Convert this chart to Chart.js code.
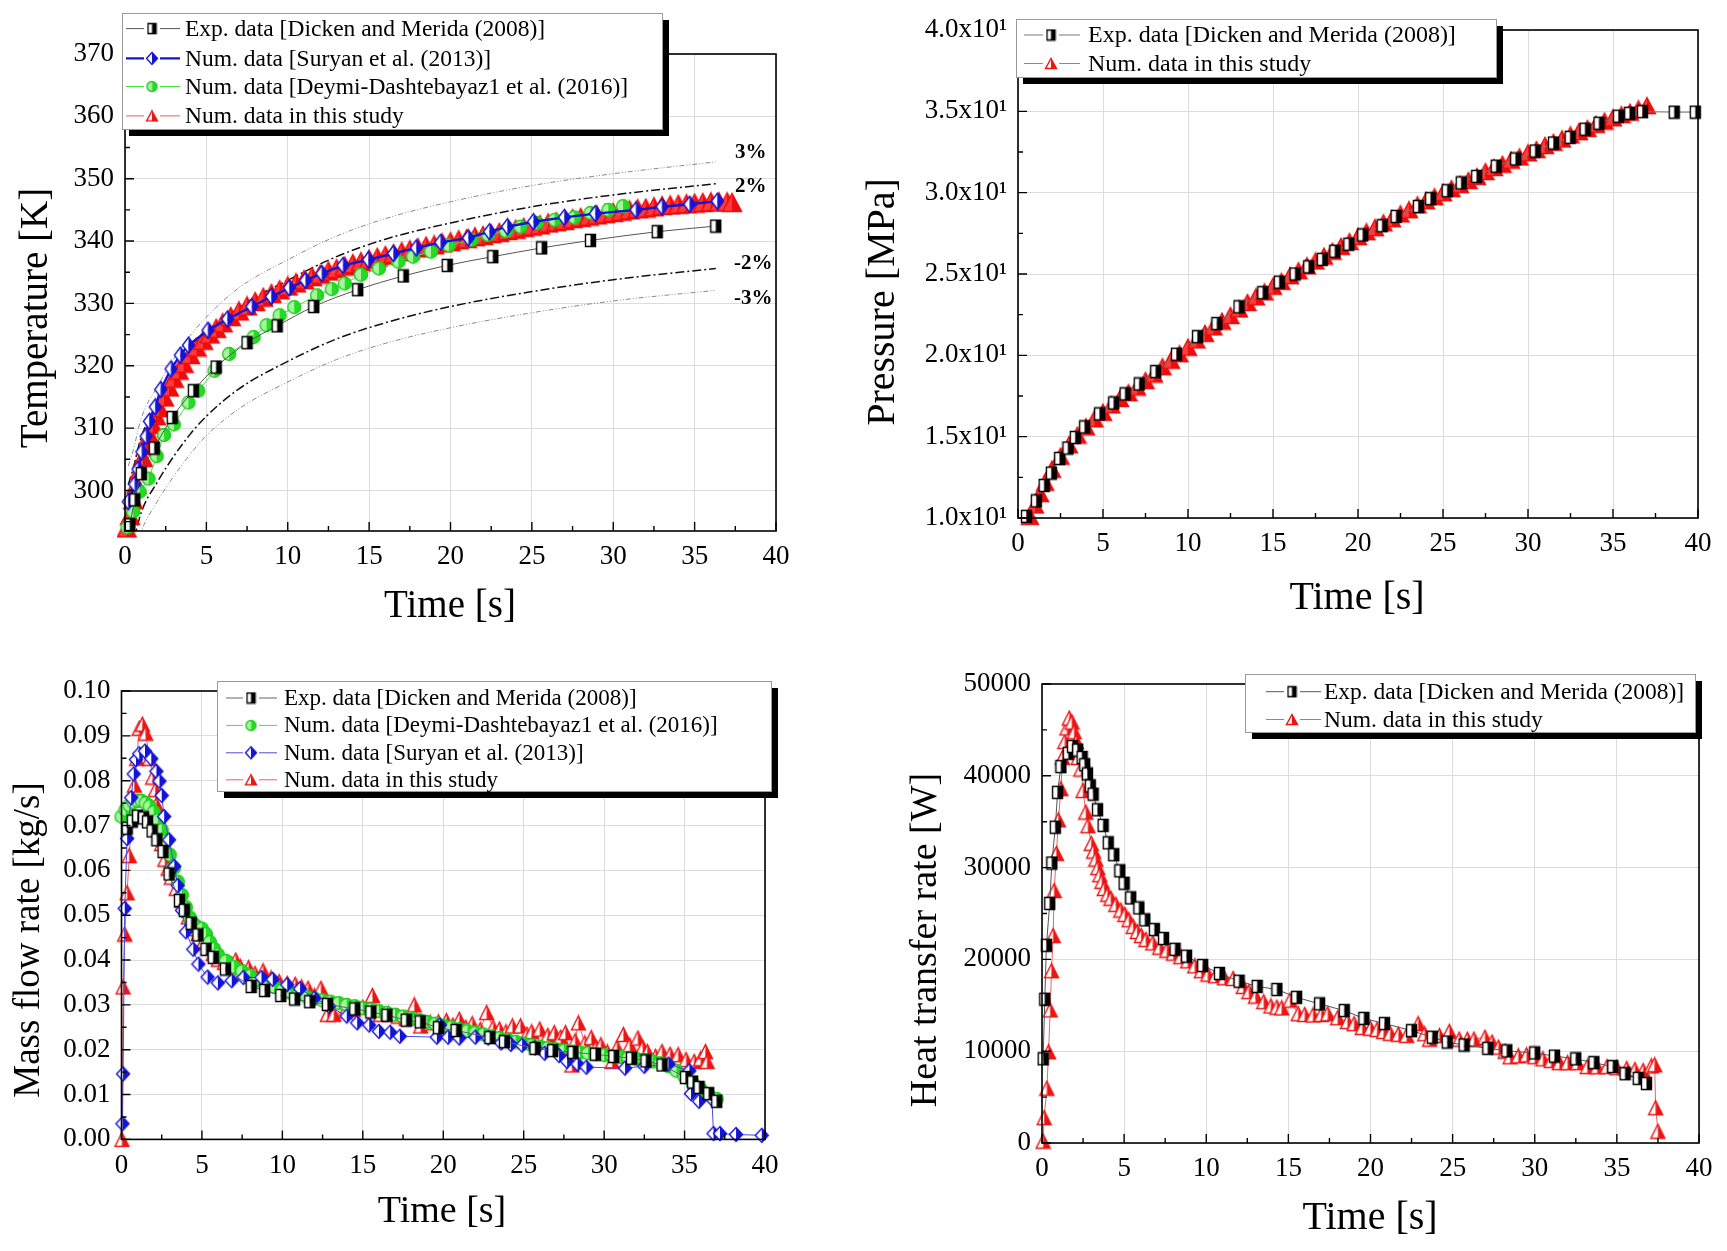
<!DOCTYPE html>
<html>
<head>
<meta charset="utf-8">
<script src="https://cdn.jsdelivr.net/npm/chart.js@4.4.1/dist/chart.umd.min.js"></script>
<style>
html, body { margin: 0; padding: 0; background: #fff; }
body { width: 1727px; height: 1251px; position: relative; overflow: hidden; }
canvas { position: absolute; }
</style>
</head>
<body>
<canvas id="cTemp" width="850" height="640" style="left:0;top:0"></canvas>
<canvas id="cPres" width="867" height="640" style="left:860px;top:0"></canvas>
<canvas id="cMass" width="850" height="611" style="left:0;top:640px"></canvas>
<canvas id="cHeat" width="867" height="611" style="left:860px;top:640px"></canvas>
<script>
// ---- shared axis ticks
var timeTicks = [0, 5, 10, 15, 20, 25, 30, 35, 40]
var timeMinor = [2.5, 7.5, 12.5, 17.5, 22.5, 27.5, 32.5, 37.5]

// ---- temperature panel
var tempTicks = [300, 310, 320, 330, 340, 350, 360, 370]
var tempMinor = [295, 305, 315, 325, 335, 345, 355, 365]
var tempExpT = [0.3, 0.6, 1.0, 1.8, 2.9, 4.2, 5.6, 7.5, 9.35, 11.6, 14.3, 17.1, 19.8, 22.6, 25.6, 28.6, 32.7, 36.3]
var tempExpV = [294.5, 298.5, 302.7, 306.8, 311.7, 316.0, 319.8, 323.7, 326.4, 329.5, 332.2, 334.4, 336.1, 337.5, 338.9, 340.1, 341.5, 342.4]
var tempSurT = [0.2, 0.6, 0.8, 1.04, 1.3, 1.5, 1.86, 2.2, 2.83, 3.4, 3.9, 5.1, 6.3, 7.8, 9.0, 10.1, 11.1, 12.1, 13.4, 14.96, 16.5, 17.9, 19.4, 21.1, 22.4, 23.5, 25.1, 27.0, 28.9, 31.4, 33.0, 34.7, 36.4]
var tempSurV = [298.2, 301.0, 303.4, 306.2, 308.7, 311.1, 313.4, 316.2, 319.5, 321.7, 323.3, 325.7, 327.5, 329.5, 331.1, 332.5, 333.7, 334.8, 336.1, 337.0, 338.0, 338.9, 339.8, 340.5, 341.5, 342.3, 343.1, 343.8, 344.4, 345.0, 345.5, 345.9, 346.4]
var tempDeyT = [0.15, 0.5, 0.9, 1.45, 1.95, 2.4, 3.0, 3.9, 4.5, 5.5, 6.4, 7.9, 8.7, 9.5, 10.4, 11.8, 12.7, 13.5, 14.5, 15.6, 16.8, 17.7, 18.8, 19.9, 21.3, 22.3, 23.4, 24.3, 25.3, 26.4, 27.6, 28.6, 29.7, 30.6]
var tempDeyV = [294.1, 296.6, 299.8, 301.9, 305.5, 308.9, 310.6, 314.1, 316.0, 319.2, 321.9, 324.6, 326.5, 328.1, 329.4, 331.3, 332.3, 333.2, 334.6, 335.6, 336.7, 337.5, 338.3, 339.3, 340.2, 341.0, 341.6, 342.3, 342.9, 343.4, 343.8, 344.5, 345.0, 345.6]
var tempNumT = [0.1, 0.3, 0.5, 0.7, 0.9, 1.1, 1.3, 1.5, 1.7, 1.9, 2.1, 2.4, 2.7, 3.0, 3.3, 3.6, 4.0, 4.4, 4.8, 5.2, 5.6, 6.0, 6.5, 7.0, 7.5, 8.0, 8.5, 9.0, 9.5, 10.0, 10.5, 11.0, 11.5, 12.0, 12.5, 13.0, 13.5, 14.0, 14.5, 15.0, 15.5, 16.0, 16.5, 17.0, 17.5, 18.0, 18.5, 19.0, 19.5, 20.0, 20.5, 21.0, 21.5, 22.0, 22.5, 23.0, 23.5, 24.0, 24.5, 25.0, 25.5, 26.0, 26.5, 27.0, 27.5, 28.0, 28.5, 29.0, 29.5, 30.0, 30.5, 31.0, 31.5, 32.0, 32.5, 33.0, 33.5, 34.0, 34.5, 35.0, 35.5, 36.0, 36.5, 37.0, 37.3]
var tempNumV = [294.0, 296.0, 298.5, 301.0, 303.3, 305.3, 307.2, 309.0, 310.6, 312.0, 313.3, 315.0, 316.6, 318.0, 319.3, 320.4, 321.8, 323.0, 324.1, 325.1, 326.0, 326.9, 327.9, 328.8, 329.6, 330.3, 331.0, 331.6, 332.2, 332.8, 333.3, 333.8, 334.3, 334.7, 335.2, 335.6, 336.0, 336.4, 336.7, 337.1, 337.4, 337.7, 338.0, 338.3, 338.6, 338.9, 339.2, 339.4, 339.7, 339.9, 340.2, 340.4, 340.7, 340.9, 341.2, 341.4, 341.7, 341.9, 342.2, 342.4, 342.6, 342.9, 343.1, 343.3, 343.6, 343.8, 344.0, 344.2, 344.4, 344.6, 344.8, 345.0, 345.2, 345.3, 345.5, 345.7, 345.8, 345.9, 346.0, 346.1, 346.2, 346.3, 346.3, 346.3, 346.2]
var bandT = [0.2, 0.5, 1, 2, 3, 4, 5, 7, 10, 13, 16, 20, 25, 30, 36.3]
var bandUp3 = [303.9, 306.4, 311.6, 316.7, 321.1, 324.8, 327.8, 332.5, 337.0, 340.8, 343.6, 346.3, 348.9, 350.8, 352.7]
var bandUp2 = [300.9, 303.5, 308.6, 313.7, 317.9, 321.6, 324.7, 329.3, 333.7, 337.5, 340.3, 342.9, 345.5, 347.4, 349.2]
var bandDn2 = [289.1, 291.6, 296.5, 301.4, 305.5, 309.0, 311.9, 316.3, 320.7, 324.3, 326.9, 329.5, 331.9, 333.8, 335.6]
var bandDn3 = [286.2, 288.6, 293.4, 298.3, 302.3, 305.8, 308.8, 313.1, 317.4, 321.0, 323.6, 326.1, 328.5, 330.4, 332.1]
var bandNames = ['3%', '2%', '-2%', '-3%']
var bandNameT = [38.45, 38.45, 38.6, 38.6]
var bandNameV = [354.2, 348.8, 336.4, 330.7]

// ---- pressure panel
var presTicks = [10, 15, 20, 25, 30, 35, 40]
var presLabels = ['1.0x10¹', '1.5x10¹', '2.0x10¹', '2.5x10¹', '3.0x10¹', '3.5x10¹', '4.0x10¹']
var presMinor = [12.5, 17.5, 22.5, 27.5, 32.5, 37.5]
var presExpT = [0.5, 1.08, 1.54, 1.96, 2.45, 2.94, 3.37, 3.92, 4.8, 5.63, 6.3, 7.13, 8.1, 9.32, 10.56, 11.7, 13.0, 14.4, 15.37, 16.3, 17.1, 17.9, 18.64, 19.46, 20.28, 21.42, 22.24, 23.55, 24.27, 25.25, 26.07, 26.98, 28.13, 29.27, 30.42, 31.5, 32.48, 33.36, 34.18, 35.32, 35.98, 36.73, 38.6, 39.84]
var presExpV = [10.1, 11.05, 12.0, 12.76, 13.66, 14.3, 14.95, 15.6, 16.4, 17.07, 17.63, 18.24, 19.0, 20.07, 21.15, 21.95, 22.98, 23.85, 24.5, 25.0, 25.44, 25.9, 26.4, 26.83, 27.4, 27.97, 28.54, 29.15, 29.63, 30.12, 30.6, 31.0, 31.63, 32.07, 32.56, 33.05, 33.4, 33.9, 34.27, 34.7, 34.88, 34.98, 34.95, 34.95]
var presNumT = [0.7, 1.0, 1.3, 1.6, 2.0, 2.5, 3.0, 3.5, 4.0, 4.5, 5.0, 5.5, 6.0, 6.5, 7.0, 7.5, 8.0, 8.5, 9.0, 9.5, 10.0, 10.5, 11.0, 11.5, 12.0, 12.5, 13.0, 13.5, 14.0, 14.5, 15.0, 15.5, 16.0, 16.5, 17.0, 17.5, 18.0, 18.5, 19.0, 19.5, 20.0, 20.5, 21.0, 21.5, 22.0, 22.5, 23.0, 23.5, 24.0, 24.5, 25.0, 25.5, 26.0, 26.5, 27.0, 27.5, 28.0, 28.5, 29.0, 29.5, 30.0, 30.5, 31.0, 31.5, 32.0, 32.5, 33.0, 33.5, 34.0, 34.5, 35.0, 35.5, 36.0, 36.5, 37.0]
var presNumV = [10.1, 10.8, 11.5, 12.2, 13.0, 13.8, 14.5, 15.1, 15.6, 16.1, 16.5, 16.95, 17.35, 17.7, 18.05, 18.45, 18.85, 19.3, 19.7, 20.1, 20.5, 20.95, 21.35, 21.75, 22.1, 22.45, 22.85, 23.25, 23.6, 23.9, 24.25, 24.55, 24.9, 25.2, 25.5, 25.8, 26.1, 26.4, 26.7, 27.0, 27.3, 27.6, 27.85, 28.15, 28.4, 28.7, 28.95, 29.25, 29.5, 29.75, 30.0, 30.25, 30.5, 30.75, 31.0, 31.3, 31.55, 31.75, 32.0, 32.2, 32.45, 32.65, 32.9, 33.1, 33.3, 33.55, 33.75, 33.95, 34.2, 34.4, 34.6, 34.8, 34.95, 35.15, 35.35]

// ---- mass flow panel
var massTicks = [0, 0.01, 0.02, 0.03, 0.04, 0.05, 0.06, 0.07, 0.08, 0.09, 0.10]
var massLabels = ['0.00', '0.01', '0.02', '0.03', '0.04', '0.05', '0.06', '0.07', '0.08', '0.09', '0.10']
var massMinor = [0.005, 0.015, 0.025, 0.035, 0.045, 0.055, 0.065, 0.075, 0.085, 0.095]
var massExpT = [0.35, 0.67, 1.0, 1.37, 1.62, 1.9, 2.2, 2.58, 2.96, 3.6, 3.9, 4.33, 4.75, 5.25, 5.7, 6.46, 8.06, 8.9, 9.9, 10.76, 11.7, 12.8, 14.5, 15.5, 16.5, 17.7, 18.57, 19.7, 20.8, 22.9, 23.8, 25.7, 26.8, 28.06, 29.46, 30.6, 31.7, 32.6, 33.6, 35.06, 35.5, 35.9, 36.5, 37.0]
var massExpV = [0.0694, 0.0710, 0.0721, 0.0717, 0.0708, 0.0688, 0.0668, 0.0642, 0.0592, 0.0533, 0.0511, 0.0482, 0.0456, 0.0424, 0.0406, 0.0380, 0.0341, 0.0332, 0.0321, 0.0313, 0.0307, 0.0301, 0.0291, 0.0284, 0.0277, 0.0266, 0.0262, 0.0249, 0.0243, 0.0227, 0.0218, 0.0203, 0.0198, 0.0194, 0.0190, 0.0185, 0.0181, 0.0175, 0.0166, 0.0138, 0.0128, 0.0116, 0.0102, 0.0085]
var massSurT = [0.06, 0.1, 0.2, 0.35, 0.6, 0.76, 0.9, 1.1, 1.46, 1.85, 2.17, 2.36, 2.5, 2.65, 2.96, 3.28, 3.5, 3.76, 4.0, 4.46, 4.78, 5.35, 5.99, 6.85, 7.58, 8.7, 9.4, 10.3, 11.1, 12.0, 12.9, 14.0, 14.65, 15.4, 16.0, 16.7, 17.3, 19.6, 19.8, 20.3, 21.0, 22.0, 22.8, 23.6, 24.2, 24.9, 25.7, 26.3, 27.2, 27.7, 28.35, 28.9, 31.3, 32.5, 34.0, 35.3, 35.4, 35.9, 36.7, 36.8, 37.2, 38.2, 39.8]
var massSurV = [0.0035, 0.0146, 0.0515, 0.0671, 0.0762, 0.0815, 0.0847, 0.0860, 0.0866, 0.0849, 0.0821, 0.0799, 0.0767, 0.0720, 0.0668, 0.0609, 0.0566, 0.0511, 0.0463, 0.0424, 0.0391, 0.0362, 0.0349, 0.0354, 0.0361, 0.0361, 0.0357, 0.0345, 0.0336, 0.0315, 0.0297, 0.0275, 0.0260, 0.0255, 0.0241, 0.0239, 0.0230, 0.0228, 0.0255, 0.0228, 0.0226, 0.0228, 0.0226, 0.0215, 0.0212, 0.0210, 0.0204, 0.0192, 0.0187, 0.0174, 0.0168, 0.0161, 0.0159, 0.0163, 0.0168, 0.0153, 0.0102, 0.0085, 0.0090, 0.0013, 0.0013, 0.0011, 0.0009]
var massDeyT = [0, 0.25, 0.5, 0.75, 1.0, 1.25, 1.5, 1.75, 2.0, 2.25, 2.5, 2.75, 3.0, 3.25, 3.5, 3.75, 4.0, 4.25, 4.5, 4.75, 5.0, 5.25, 5.5, 5.75, 6.0, 6.5, 7.0, 7.5, 8.0, 8.5, 9.0, 9.5, 10.0, 10.5, 11.0, 11.5, 12.0, 12.5, 13.0, 13.5, 14.0, 14.5, 15.0, 15.5, 16.0, 16.5, 17.0, 17.5, 18.0, 18.5, 19.0, 19.5, 20.0, 20.5, 21.0, 21.5, 22.0, 22.5, 23.0, 23.5, 24.0, 24.5, 25.0, 25.5, 26.0, 26.5, 27.0, 27.5, 28.0, 28.5, 29.0, 29.5, 30.0, 30.5, 31.0, 31.5, 32.0, 32.5, 33.0, 33.5, 34.0, 34.5, 35.0, 35.5, 36.0, 36.5, 37.0]
var massDeyV = [0.0720, 0.0735, 0.0745, 0.0752, 0.0755, 0.0755, 0.0750, 0.0743, 0.0730, 0.0712, 0.0690, 0.0665, 0.0635, 0.0605, 0.0575, 0.0545, 0.0518, 0.0495, 0.0480, 0.0473, 0.0470, 0.0458, 0.0440, 0.0425, 0.0412, 0.0398, 0.0385, 0.0375, 0.0365, 0.0355, 0.0347, 0.0340, 0.0333, 0.0327, 0.0322, 0.0318, 0.0314, 0.0310, 0.0307, 0.0304, 0.0300, 0.0297, 0.0293, 0.0290, 0.0286, 0.0282, 0.0278, 0.0274, 0.0270, 0.0266, 0.0262, 0.0258, 0.0254, 0.0250, 0.0246, 0.0242, 0.0238, 0.0234, 0.0230, 0.0226, 0.0222, 0.0218, 0.0214, 0.0210, 0.0207, 0.0204, 0.0201, 0.0198, 0.0196, 0.0194, 0.0192, 0.0190, 0.0188, 0.0186, 0.0184, 0.0182, 0.0180, 0.0177, 0.0174, 0.0170, 0.0163, 0.0153, 0.0140, 0.0126, 0.0112, 0.0100, 0.0090]
var massNumT = [0.03, 0.1, 0.2, 0.35, 0.48, 0.67, 0.8, 0.95, 1.1, 1.3, 1.5, 1.75, 1.94, 2.1, 2.17, 2.3, 2.5, 2.7, 2.9, 3.1, 3.4, 3.74, 4.15, 4.5, 4.77, 5.1, 5.4, 5.7, 6.02, 6.4, 6.85, 7.1, 7.4, 7.9, 8.3, 8.8, 9.3, 9.8, 10.3, 10.8, 11.2, 11.6, 12.0, 12.4, 12.8, 13.2, 13.9, 14.4, 15.0, 15.6, 16.1, 16.6, 17.2, 17.7, 18.2, 18.6, 19.2, 19.7, 20.2, 20.6, 21.0, 21.4, 21.8, 22.3, 22.7, 23.1, 23.5, 23.9, 24.3, 24.8, 25.2, 25.5, 26.0, 26.5, 26.9, 27.3, 27.6, 28.0, 28.2, 28.4, 28.8, 29.2, 29.5, 29.8, 30.2, 30.5, 30.8, 31.2, 31.6, 32.1, 32.4, 32.7, 33.2, 33.6, 34.1, 34.6, 35.1, 35.6, 36.0, 36.3, 36.4]
var massNumV = [0.0, 0.034, 0.0458, 0.055, 0.0633, 0.073, 0.079, 0.085, 0.0917, 0.0926, 0.0906, 0.085, 0.0808, 0.078, 0.0747, 0.071, 0.066, 0.0625, 0.0605, 0.0585, 0.056, 0.0533, 0.0496, 0.047, 0.0459, 0.0442, 0.0428, 0.0415, 0.0402, 0.0395, 0.0391, 0.040, 0.0385, 0.0383, 0.037, 0.0376, 0.036, 0.0352, 0.0348, 0.0346, 0.034, 0.0337, 0.032, 0.0337, 0.0279, 0.0279, 0.0287, 0.029, 0.0295, 0.0321, 0.0279, 0.028, 0.0275, 0.027, 0.030, 0.0253, 0.026, 0.0262, 0.0265, 0.0255, 0.0268, 0.025, 0.0258, 0.0245, 0.0283, 0.025, 0.0246, 0.024, 0.0253, 0.0253, 0.0235, 0.024, 0.0246, 0.0232, 0.0238, 0.0228, 0.0238, 0.0166, 0.022, 0.026, 0.0215, 0.0227, 0.0205, 0.0211, 0.0195, 0.0174, 0.0205, 0.0234, 0.021, 0.0226, 0.0205, 0.0196, 0.0185, 0.0196, 0.019, 0.0189, 0.0178, 0.0174, 0.018, 0.0196, 0.0174]

// ---- heat transfer panel
var heatTicks = [0, 10000, 20000, 30000, 40000, 50000]
var heatMinor = [5000, 15000, 25000, 35000, 45000]
var heatExpT = [0.07, 0.17, 0.27, 0.47, 0.6, 0.81, 0.95, 1.15, 1.6, 1.86, 2.17, 2.44, 2.6, 2.77, 2.94, 3.11, 3.38, 3.72, 4.03, 4.37, 4.74, 5.0, 5.4, 5.9, 6.26, 6.84, 7.4, 8.1, 8.8, 9.78, 10.8, 12.0, 13.1, 14.3, 15.5, 16.9, 18.4, 19.6, 20.85, 22.5, 23.76, 24.67, 25.7, 27.14, 28.3, 30.0, 31.2, 32.5, 33.6, 34.75, 35.5, 36.3, 36.8]
var heatExpV = [9170, 15660, 21540, 26100, 30500, 34400, 38200, 41000, 42450, 43200, 42800, 42000, 41200, 40200, 38900, 38000, 36300, 34600, 32700, 31400, 29650, 28300, 26700, 25600, 24300, 23250, 22270, 21100, 20350, 19330, 18470, 17620, 17060, 16720, 15870, 15150, 14420, 13570, 13010, 12240, 11520, 11000, 10670, 10320, 10030, 9810, 9470, 9170, 8750, 8320, 7550, 7040, 6480]
var heatNumT = [0.07, 0.13, 0.3, 0.4, 0.5, 0.58, 0.68, 0.74, 0.88, 1.0, 1.15, 1.25, 1.39, 1.52, 1.66, 1.83, 1.96, 2.1, 2.2, 2.37, 2.5, 2.67, 2.8, 3.0, 3.14, 3.28, 3.4, 3.52, 3.65, 3.79, 4.0, 4.2, 4.5, 4.8, 5.05, 5.3, 5.55, 5.8, 6.05, 6.33, 6.75, 7.17, 7.6, 8.0, 8.45, 8.87, 9.3, 9.7, 10.1, 10.56, 11.1, 11.64, 12.25, 12.6, 13.0, 13.5, 13.94, 14.3, 14.6, 15.1, 15.6, 16.0, 16.5, 17.0, 17.4, 18.0, 18.6, 19.0, 19.5, 20.0, 20.4, 20.8, 21.2, 21.7, 22.2, 22.9, 23.3, 23.6, 24.2, 24.8, 25.4, 25.9, 26.3, 26.97, 27.4, 27.8, 28.2, 28.5, 29.0, 29.5, 30.0, 30.5, 31.0, 31.5, 32.0, 32.6, 33.2, 33.8, 34.4, 35.0, 35.6, 36.1, 36.6, 37.1, 37.3, 37.36, 37.5]
var heatNumV = [200, 2770, 5970, 9940, 14500, 18770, 22600, 27500, 31550, 35200, 38600, 42000, 43730, 45220, 46290, 45860, 44800, 43730, 42000, 40740, 38400, 36050, 34560, 32640, 31800, 30930, 30000, 29220, 28500, 27730, 27100, 26660, 26000, 25380, 24900, 24320, 23600, 23040, 22600, 22180, 21800, 21330, 21000, 20690, 20300, 19840, 19300, 18770, 18400, 18220, 18000, 17920, 17060, 16500, 16000, 15400, 14930, 14800, 14720, 15570, 14080, 14000, 13950, 14000, 14080, 13650, 13230, 13000, 12590, 12500, 12370, 12150, 11950, 11850, 11730, 13010, 11900, 11310, 11700, 12160, 11310, 11300, 11310, 11520, 11000, 10450, 10000, 9390, 9500, 9600, 9400, 9170, 9000, 8750, 8750, 8750, 8320, 8300, 8320, 8200, 8110, 8000, 7890, 8400, 8530, 3840, 1280]

var lblExp = 'Exp. data [Dicken and Merida (2008)]'
var lblSur = 'Num. data [Suryan et al. (2013)]'
var lblDey = 'Num. data [Deymi-Dashtebayaz1 et al. (2016)]'
var lblNum = 'Num. data in this study'

var SERIF = "'Liberation Serif', 'Times New Roman', serif"

// half filled marker glyphs
function marker(shape, w, h, left, right, stroke) {
  var c = document.createElement('canvas')
  c.width = w + 3; c.height = h + 3
  var g = c.getContext('2d')
  var cx = c.width / 2, cy = c.height / 2
  function path() {
    g.beginPath()
    if (shape == 'square') g.rect(cx - w / 2, cy - h / 2, w, h)
    else if (shape == 'diamond') { g.moveTo(cx, cy - h / 2); g.lineTo(cx + w / 2, cy); g.lineTo(cx, cy + h / 2); g.lineTo(cx - w / 2, cy); g.closePath() }
    else if (shape == 'circle') g.ellipse(cx, cy, w / 2, h / 2, 0, 0, Math.PI * 2)
    else { g.moveTo(cx, cy - h / 2); g.lineTo(cx + w / 2, cy + h / 2); g.lineTo(cx - w / 2, cy + h / 2); g.closePath() }
  }
  g.save(); path(); g.clip()
  g.fillStyle = left; g.fillRect(0, 0, cx, c.height)
  g.fillStyle = right; g.fillRect(cx, 0, c.width - cx, c.height)
  g.restore()
  path(); g.lineWidth = 1.4; g.strokeStyle = stroke; g.stroke()
  return c
}

var mSquare = marker('square', 10, 12, '#fff', '#000', '#000')
var mSquareL = marker('square', 8, 10, '#fff', '#000', '#000')
var mDiamond = marker('diamond', 12, 16, '#fff', '#1414d8', '#1414d8')
var mDiamondS = marker('diamond', 13, 14, '#fff', '#1414d8', '#1414d8')
var mDiamondL = marker('diamond', 11, 12, '#fff', '#1414d8', '#1414d8')
var mCircle = marker('circle', 13, 13, '#a8f5a0', '#22dd22', '#22cc22')
var mCircleL = marker('circle', 10, 10, '#a8f5a0', '#22dd22', '#22cc22')
var mTriBig = marker('triangle', 19, 18, '#ff3a3a', '#ee0c0c', '#ee0c0c')
var mTriMid = marker('triangle', 17, 16, '#ff3a3a', '#ee0c0c', '#ee0c0c')
var mTri = marker('triangle', 14, 14, '#fff', '#ee1414', '#ee1414')
var mTriL = marker('triangle', 11, 10, '#fff', '#ee1414', '#ee1414')

function pts(xs, ys) {
  return xs.map(function (x, i) { return {x: x, y: ys[i]} })
}

function series(label, xs, ys, color, width, mark, legendMark, order) {
  return {label: label, data: pts(xs, ys), borderColor: color, backgroundColor: color, borderWidth: width,
    pointStyle: mark, legendMark: legendMark, pointRadius: 5, order: order, clip: 8, tension: 0}
}

function band(xs, ys, color, dash, width) {
  return {label: '', data: pts(xs, ys), borderColor: color, borderWidth: width, borderDash: dash,
    pointRadius: 0, cubicInterpolationMode: 'monotone', clip: 0, order: 9}
}

// layout and decoration for each canvas
var decorCfg = {
  cTemp: {
    xMinor: timeMinor, yMinor: tempMinor,
    titleX: {text: 'Time [s]', x: 450, y: 607, size: 39},
    titleY: {text: 'Temperature [K]', x: 37, y: 318, size: 39},
    legend: {x: 122, y: 13, w: 540, h: 116, s0: 126, s1: 180, mx: 152, tx: 185, size: 23.5,
      rows: [{ds: 0, y: 28.6}, {ds: 1, y: 58.4}, {ds: 2, y: 86.5}, {ds: 3, y: 115.9}]},
    notes: true
  },
  cPres: {
    xMinor: timeMinor, yMinor: presMinor,
    titleX: {text: 'Time [s]', x: 497, y: 598, size: 40},
    titleY: {text: 'Pressure [MPa]', x: 23.5, y: 302, size: 40},
    legend: {x: 156, y: 19, w: 480, h: 58, s0: 164, s1: 220, mx: 191, tx: 228, size: 24,
      rows: [{ds: 0, y: 35}, {ds: 1, y: 63.5}]}
  },
  cMass: {
    xMinor: timeMinor, yMinor: massMinor,
    titleX: {text: 'Time [s]', x: 442, y: 572, size: 38},
    titleY: {text: 'Mass flow rate [kg/s]', x: 29, y: 300, size: 37},
    legend: {x: 217, y: 41, w: 554, h: 110, s0: 226, s1: 277, mx: 251, tx: 284, size: 23,
      rows: [{ds: 0, y: 58}, {ds: 2, y: 85.4}, {ds: 1, y: 112.8}, {ds: 3, y: 139.8}]}
  },
  cHeat: {
    xMinor: timeMinor, yMinor: heatMinor,
    titleX: {text: 'Time [s]', x: 510, y: 578, size: 40},
    titleY: {text: 'Heat transfer rate [W]', x: 66.5, y: 300, size: 38},
    legend: {x: 385, y: 34, w: 450, h: 58, s0: 406, s1: 461, mx: 432, tx: 464, size: 23.5,
      rows: [{ds: 0, y: 51.7}, {ds: 1, y: 79.5}]}
  }
}

var decor = {
  id: 'decor',
  afterDraw: function (chart) {
    var o = decorCfg[chart.canvas.id]
    var ctx = chart.ctx, a = chart.chartArea, sx = chart.scales.x, sy = chart.scales.y
    ctx.save()
    ctx.strokeStyle = '#000'
    ctx.lineWidth = 1.4
    ctx.setLineDash([])
    ctx.beginPath()
    sx.ticks.forEach(function (t) { var p = sx.getPixelForValue(t.value); ctx.moveTo(p, a.bottom); ctx.lineTo(p, a.bottom - 9) })
    o.xMinor.forEach(function (v) { var p = sx.getPixelForValue(v); ctx.moveTo(p, a.bottom); ctx.lineTo(p, a.bottom - 5) })
    sy.ticks.forEach(function (t) { var p = sy.getPixelForValue(t.value); ctx.moveTo(a.left, p); ctx.lineTo(a.left + 9, p) })
    o.yMinor.forEach(function (v) { var p = sy.getPixelForValue(v); ctx.moveTo(a.left, p); ctx.lineTo(a.left + 5, p) })
    ctx.stroke()
    ctx.lineWidth = 1.6
    ctx.strokeRect(a.left, a.top, a.right - a.left, a.bottom - a.top)

    ctx.fillStyle = '#000'
    ctx.textAlign = 'center'
    ctx.textBaseline = 'middle'
    if (o.notes) {
      ctx.font = 'bold 21px ' + SERIF
      bandNames.forEach(function (n, i) {
        ctx.fillText(n, sx.getPixelForValue(bandNameT[i]), sy.getPixelForValue(bandNameV[i]))
      })
    }
    ctx.font = o.titleX.size + 'px ' + SERIF
    ctx.fillText(o.titleX.text, o.titleX.x, o.titleX.y)
    ctx.save()
    ctx.translate(o.titleY.x, o.titleY.y)
    ctx.rotate(-Math.PI / 2)
    ctx.font = o.titleY.size + 'px ' + SERIF
    ctx.fillText(o.titleY.text, 0, 0)
    ctx.restore()

    var L = o.legend
    ctx.fillStyle = '#000'
    ctx.fillRect(L.x + 7, L.y + 7, L.w, L.h)
    ctx.fillStyle = '#fff'
    ctx.fillRect(L.x, L.y, L.w, L.h)
    ctx.strokeStyle = '#999'
    ctx.lineWidth = 1
    ctx.strokeRect(L.x + 0.5, L.y + 0.5, L.w, L.h)
    ctx.font = L.size + 'px ' + SERIF
    ctx.textAlign = 'left'
    L.rows.forEach(function (r) {
      var ds = chart.data.datasets[r.ds]
      ctx.strokeStyle = ds.borderColor
      ctx.lineWidth = ds.borderWidth
      ctx.beginPath()
      ctx.moveTo(L.s0, r.y); ctx.lineTo(L.mx - 8, r.y)
      ctx.moveTo(L.mx + 8, r.y); ctx.lineTo(L.s1, r.y)
      ctx.stroke()
      var m = ds.legendMark || ds.pointStyle
      ctx.drawImage(m, L.mx - m.width / 2, r.y - m.height / 2)
      ctx.fillStyle = '#000'
      ctx.fillText(ds.label, L.tx, r.y + 1)
    })
    ctx.restore()
  }
}

function makeChart(id, datasets, yMin, yMax, yTicks, yLabels, pad, yW, xH) {
  return new Chart(document.getElementById(id), {
    type: 'line',
    data: {datasets: datasets},
    options: {
      responsive: false,
      animation: false,
      events: [],
      layout: {padding: pad},
      plugins: {legend: {display: false}, tooltip: {enabled: false}},
      scales: {
        x: {
          type: 'linear', min: 0, max: 40,
          afterBuildTicks: function (s) { s.ticks = timeTicks.map(function (v) { return {value: v} }) },
          afterFit: function (s) { s.height = xH },
          grid: {color: '#dcdcdc', drawTicks: false},
          border: {display: false},
          ticks: {padding: 10, color: '#000', maxRotation: 0, autoSkip: false, font: {family: SERIF, size: 27},
            callback: function (v) { return String(v) }}
        },
        y: {
          type: 'linear', min: yMin, max: yMax,
          afterBuildTicks: function (s) { s.ticks = yTicks.map(function (v) { return {value: v} }) },
          afterFit: function (s) { s.width = yW },
          grid: {color: '#dcdcdc', drawTicks: false},
          border: {display: false},
          ticks: {padding: 11, color: '#000', autoSkip: false, font: {family: SERIF, size: 27},
            callback: function (v, i) { return yLabels ? yLabels[i] : String(v) }}
        }
      }
    },
    plugins: [decor]
  })
}

var tempExp = series(lblExp, tempExpT, tempExpV, '#555', 1, mSquare, mSquareL, 1)
tempExp.cubicInterpolationMode = 'monotone'
makeChart('cTemp', [
  tempExp,
  series(lblSur, tempSurT, tempSurV, '#1414d8', 2.4, mDiamond, mDiamondL, 2),
  series(lblDey, tempDeyT, tempDeyV, '#44e044', 1, mCircle, mCircleL, 3),
  series(lblNum, tempNumT, tempNumV, '#f06060', 1, mTriBig, mTriL, 4),
  band(bandT, bandUp3, '#8a8a8a', [5, 2, 1, 2, 1, 2], 1),
  band(bandT, bandUp2, '#111', [9, 3, 2, 3], 1.5),
  band(bandT, bandDn2, '#111', [9, 3, 2, 3], 1.5),
  band(bandT, bandDn3, '#8a8a8a', [5, 2, 1, 2, 1, 2], 1)
], 293.5, 370, tempTicks, null, {left: 10, top: 54, right: 74, bottom: 0}, 115, 109)

makeChart('cPres', [
  series(lblExp, presExpT, presExpV, '#777', 1, mSquare, mSquareL, 1),
  series(lblNum, presNumT, presNumV, '#f06060', 1, mTriMid, mTriL, 4)
], 10, 40, presTicks, presLabels, {left: 10, top: 30, right: 29, bottom: 0}, 148, 122)

makeChart('cMass', [
  series(lblExp, massExpT, massExpV, '#666', 1, mSquare, mSquareL, 1),
  series(lblSur, massSurT, massSurV, '#4a4ae0', 1, mDiamondS, mDiamondL, 2),
  series(lblDey, massDeyT, massDeyV, '#44e044', 1, mCircle, mCircleL, 3),
  series(lblNum, massNumT, massNumV, '#f06060', 1, mTri, mTriL, 4)
], 0, 0.10, massTicks, massLabels, {left: 10, top: 51, right: 85, bottom: 0}, 111.5, 111.6)

makeChart('cHeat', [
  series(lblExp, heatExpT, heatExpV, '#555', 1, mSquare, mSquareL, 1),
  series(lblNum, heatNumT, heatNumV, '#f06060', 1, mTri, mTriL, 4)
], 0, 50000, heatTicks, null, {left: 10, top: 44, right: 28, bottom: 0}, 172, 108)
</script>
</body>
</html>
